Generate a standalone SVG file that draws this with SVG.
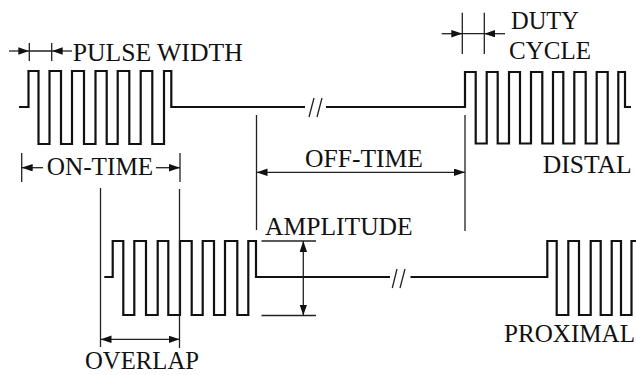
<svg xmlns="http://www.w3.org/2000/svg" width="636" height="375" viewBox="0 0 636 375">
<defs>
<style>
.wave{fill:none;stroke:#111;stroke-width:2.2;stroke-linejoin:miter}
.dim{fill:none;stroke:#222;stroke-width:1.3}
.arr{fill:none;stroke:#222;stroke-width:1.3;marker-end:url(#ah)}
.arr2{fill:none;stroke:#222;stroke-width:1.3;marker-start:url(#ah);marker-end:url(#ah)}
.lbl{font-family:"Liberation Serif","Times New Roman",serif;font-size:25.5px;fill:#111}
</style>
<marker id="ah" markerUnits="userSpaceOnUse" markerWidth="11" markerHeight="8" refX="11" refY="3.75" orient="auto-start-reverse">
<path d="M0,0 L11,3.75 L0,7.5 z" fill="#111"/>
</marker>
</defs>
<rect width="636" height="375" fill="#fff"/>

<g id="distal">
<path class="wave" d="M19,107 H28.5 V71 H38.5 V144 H49.5 V71 H61 V144 H72 V71 H84 V144 H95.5 V71 H106.7 V144 H117.7 V71 H129.3 V144 H140.7 V71 H152.3 V144 H164 V71 H171.3 V107 H305"/>
<path class="wave" d="M326,107 H465 V72 H475.7 V143.5 H486.7 V72 H497.7 V143.5 H509 V72 H520 V143.5 H531 V72 H542.3 V143.5 H553 V72 H563.3 V143.5 H574.3 V72 H585.7 V143.5 H596.7 V72 H607.7 V143.5 H618.3 V72 H625 V107 H631"/>
<path class="dim" d="M309,117 L314,98 M317,117 L322,98"/>
<text class="lbl" x="542.7" y="173" textLength="89" lengthAdjust="spacingAndGlyphs">DISTAL</text>
</g>

<g id="proximal">
<path class="wave" d="M104.3,277 H112.7 V241 H123.3 V315 H134.3 V241 H146 V315 H157.7 V241 H168.3 V315 H180 V241 H191.7 V315 H202.7 V241 H214 V315 H225 V241 H237.3 V315 H248.3 V241 H256 V277 H390"/>
<path class="wave" d="M410.5,277 H547.3 V241 H556.7 V315 H568.3 V241 H579 V315 H590.7 V241 H600.7 V315 H611.7 V241 H621 V315 H631.5 V241 H637"/>
<path class="dim" d="M392.3,288 L397,269 M400,288 L405,269"/>
<text class="lbl" x="504" y="342" textLength="131" lengthAdjust="spacingAndGlyphs">PROXIMAL</text>
</g>

<g id="connectors">
<path class="dim" d="M29.3,43 V61 M51.7,43 V61 M29.3,51 H51.7"/>
<path class="arr" d="M9,51 H29.3"/>
<path class="arr" d="M72,51 H51.7"/>
<path class="dim" d="M462.3,12.7 V54 M484.3,12.7 V54 M462.3,33.7 H484.3"/>
<path class="arr" d="M441.7,33.7 H462.3"/>
<path class="arr" d="M505,33.7 H484.3"/>
<path class="dim" d="M21.7,153 V182 M180,153 V182"/>
<path class="arr" d="M43,167.7 H21.7"/>
<path class="arr" d="M156,167.7 H180"/>
<path class="dim" d="M256.5,115 V230 M465,115 V231"/>
<path class="arr2" d="M256.5,172.3 H465"/>
<path class="dim" d="M100.5,188 V347 M179.5,189 V348"/>
<path class="arr2" d="M100.5,339.3 H179.5"/>
<path class="dim" d="M261.5,241 H316 M261.5,315.5 H316"/>
<path class="arr2" d="M303.3,241 V315.5"/>
</g>

<g id="labels">
<text class="lbl" x="72.7" y="61" textLength="170" lengthAdjust="spacingAndGlyphs">PULSE WIDTH</text>
<text class="lbl" x="511" y="28.5" textLength="68" lengthAdjust="spacingAndGlyphs">DUTY</text>
<text class="lbl" x="509" y="59" textLength="82" lengthAdjust="spacingAndGlyphs">CYCLE</text>
<text class="lbl" x="46.7" y="175" textLength="106.6" lengthAdjust="spacingAndGlyphs">ON-TIME</text>
<text class="lbl" x="305" y="166.7" textLength="118" lengthAdjust="spacingAndGlyphs">OFF-TIME</text>
<text class="lbl" x="265" y="235" textLength="147.7" lengthAdjust="spacingAndGlyphs">AMPLITUDE</text>
<text class="lbl" x="85" y="369" textLength="114" lengthAdjust="spacingAndGlyphs">OVERLAP</text>
</g>
</svg>
